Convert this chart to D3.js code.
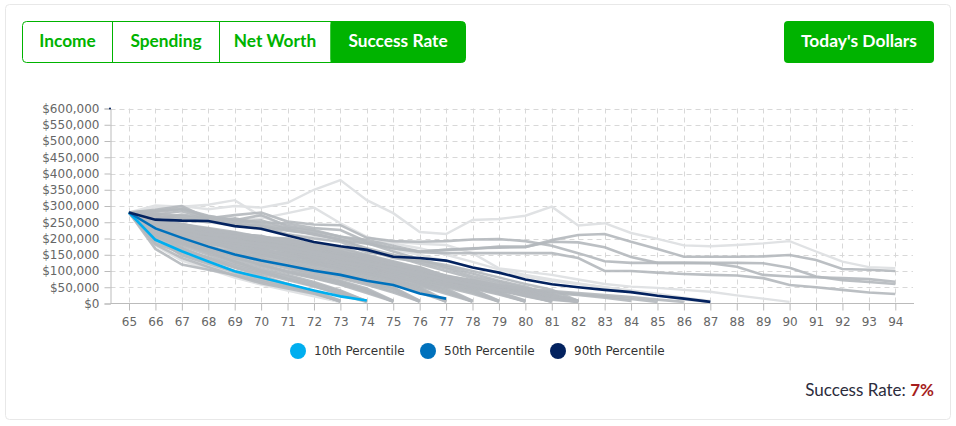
<!DOCTYPE html>
<html><head><meta charset="utf-8">
<script src="https://cdn.jsdelivr.net/npm/d3@7"></script>
<style>
html,body{margin:0;padding:0;background:#fff}
svg{display:block}
text{font-family:"DejaVu Sans",sans-serif}
.ui{font-family:Lato,"Open Sans",sans-serif}
</style></head><body>
<svg id="c" width="956" height="426"></svg>
<script>
const ages = d3.range(65,95);
const yTicks = [0,50,100,150,200,250,300,350,400,450,500,550,600]; // thousands of dollars
const tabs = ["Income","Spending","Net Worth","Success Rate"];
const legendNames = ["10th Percentile","50th Percentile","90th Percentile"];
const p10 = [280,196,161,129,99,80,60,40,22,9];
const p50 = [280,231,202,175,151,132,117,101,88,70,57,31,15];
const p90 = [280,258,255,254,238,230,209,189,176,165,144,140,132,111,95,74,59,50,42,35,24,15,5];
const fadedPaths = [
 [280,295,300,290,300,295,310,350,380,318,278,220,214,257,260,270,298,240,247,217,199,179,176,180,185,192,160,129,112,109],
 [280,302,298,304,318,268,240,222,205,188,165,150,130,112,96,82,70,60,50,40,30,18,8],
 [280,275,270,262,255,262,278,295,247,205,185,170,150,128,105,88,74,62,50,38,26,12,4],
 [280,268,262,250,240,228,214,204,192,186,190,184,180,155,108,98,88,74,60,52,48,42,36,25,15,5],
 [280,190,150,112,92,68,48,30,6],
 [280,178,132,106,80,58,40,22,4],
 [280,200,158,118,84,60,44,26,4]
];
const solidPaths = [
 [280,288,300,262,272,280,252,243,241,202,192,190,192,197,198,192,178,155,130,125,125,125,125,125,124,110,83,72,66,60],
 [280,282,290,268,258,250,246,232,226,190,170,160,165,170,172,173,195,211,214,190,168,144,144,144,145,149,134,106,104,100],
 [280,274,284,262,256,272,238,226,205,196,178,160,165,168,175,175,190,188,173,143,125,125,124,113,88,83,81,78,75,67],
 [280,268,262,254,246,236,224,214,196,184,170,158,155,155,155,155,155,140,100,100,95,91,88,86,78,57,50,42,34,29],
 [280,285,292,270,255,240,226,215,196,170,150,132,118,100,80,60,42,8],
 [280,262,274,262,250,256,232,222,206,186,160,136,112,92,70,52,26,6],
 [280,270,258,250,262,246,230,212,198,165,140,128,108,84,66,48,30,8],
 [280,276,268,258,244,238,212,200,190,158,146,122,100,78,60,44,24,6],
 [280,168,120,104,88,68,52,34,6],
 [280,182,140,112,86,62,46,30,8],
 [280,200,148,122,96,74,54,32,7],
 [280,186,155,128,100,80,60,36,6],
 [280,205,170,135,110,86,60,38,9],
 [280,210,172,140,112,92,72,52,30,6],
 [280,196,165,142,118,96,76,54,28,5],
 [280,215,178,150,122,100,78,58,34,8],
 [280,222,186,155,130,102,84,62,38,6],
 [280,205,182,160,128,108,88,66,40,7],
 [280,225,190,160,135,115,95,78,58,32,6],
 [280,212,188,166,140,122,98,80,60,36,8],
 [280,232,195,170,145,118,100,84,64,40,5],
 [280,238,200,165,150,128,108,86,68,42,7],
 [280,220,198,176,155,132,112,92,70,46,9],
 [280,228,205,180,148,136,116,96,78,58,34,6],
 [280,235,210,172,158,140,118,100,82,62,38,8],
 [280,242,208,186,162,138,124,104,86,66,44,5],
 [280,218,202,190,168,146,128,108,90,70,48,7],
 [280,246,215,192,166,150,132,112,94,74,50,9],
 [280,230,212,184,172,154,136,118,98,78,60,34,6],
 [280,240,220,196,176,148,140,122,102,82,64,38,8],
 [280,252,226,200,170,158,134,126,106,86,68,42,5],
 [280,236,218,204,180,162,144,120,110,90,72,46,7],
 [280,248,230,198,184,156,148,130,104,94,76,50,9],
 [280,255,224,208,178,166,152,128,114,96,70,54,30,6],
 [280,244,232,212,188,170,146,134,118,92,80,58,34,8],
 [280,254,236,206,192,164,156,138,112,100,84,62,38,5],
 [280,238,228,216,186,174,160,132,122,104,78,66,42,7],
 [280,250,240,220,196,168,150,142,126,108,88,60,46,9],
 [280,250,234,214,200,178,164,136,120,102,90,70,50,30,6],
 [280,254,238,210,194,182,158,146,130,110,86,66,54,34,8],
 [280,246,238,224,204,172,168,150,124,114,94,72,58,38,5],
 [280,252,240,218,190,186,162,140,134,106,98,78,56,42,7],
 [280,255,245,228,208,176,172,154,128,118,92,82,62,44,9],
 [280,248,242,226,212,190,166,148,138,112,102,76,66,46,28,6],
 [280,252,244,226,198,194,176,144,132,122,96,86,60,48,32,8],
 [280,240,232,222,216,180,170,158,126,116,106,80,70,52,34,5],
 [280,250,236,230,206,198,174,152,142,120,100,90,64,52,30,7],
 [280,236,228,216,210,184,180,162,136,128,104,84,74,50,36,9],
 [280,244,238,230,214,206,186,160,150,126,116,98,72,54,40,22,6],
 [280,234,226,218,208,188,184,166,140,132,112,88,78,52,42,26,8],
 [280,256,242,228,214,204,186,170,152,126,116,98,72,55,40,28,5],
 [280,246,232,214,206,192,190,172,144,136,110,102,80,60,44,24,7],
 [280,238,222,208,202,198,182,164,154,130,120,92,84,64,46,30,9],
 [280,252,240,226,218,196,194,174,148,140,114,106,76,68,48,32,18,6],
 [280,242,230,220,212,208,188,168,158,134,124,96,82,66,50,34,20,8],
 [280,248,236,224,216,200,198,178,152,144,118,110,80,70,52,36,22,5],
 [280,230,218,212,204,194,192,172,162,138,128,100,84,64,54,38,24,7],
 [280,254,244,232,220,204,200,182,156,148,122,112,84,72,55,40,26,9],
 [280,224,212,204,196,182,174,160,146,132,116,104,78,62,48,34,20,6],
 [280,228,208,198,190,178,170,156,142,128,112,94,76,60,46,30,16,5],
 [280,222,206,194,186,174,164,152,138,126,108,96,70,58,44,28,14,6],
 [280,236,216,202,192,184,176,158,144,124,110,90,74,56,42,26,12,5],
 [280,246,232,222,212,204,196,184,172,150,130,110,84,68,54,42,32,26,18,8],
 [280,238,228,214,208,196,186,176,160,140,120,104,82,66,52,44,36,28,22,14,5],
 [280,250,240,226,216,206,192,180,168,146,128,108,86,70,56,46,38,32,26,20,12,5]
];
const svg = d3.select("#c");
const x = d3.scalePoint().domain(ages).range([129,895.3]);
const y = d3.scaleLinear().domain([0,600]).range([303.5,108.5]);
const line = d3.line().x((d,i)=>x(ages[i])).y(d=>y(d));

// card
svg.append("rect").attr("x",5.5).attr("y",4.5).attr("width",945).attr("height",415)
  .attr("rx",4).attr("fill","#fff").attr("stroke","#e8e8e8");

// tab group
const green = "#00b300";
const tabEdges = [22.5,112.5,219.5,330.5,465.5];
svg.append("rect").attr("x",330.5).attr("y",21.5).attr("width",135).attr("height",41).attr("rx",4).attr("fill",green);
svg.append("rect").attr("x",330.5).attr("y",21.5).attr("width",6).attr("height",41).attr("fill",green);
svg.append("rect").attr("x",22.5).attr("y",21.5).attr("width",443).attr("height",41).attr("rx",4).attr("fill","none").attr("stroke",green);
[112.5,219.5].forEach(v=>svg.append("line").attr("x1",v).attr("x2",v).attr("y1",21.5).attr("y2",62.5).attr("stroke",green));
tabs.forEach((t,i)=>svg.append("text").attr("class","ui").attr("x",(tabEdges[i]+tabEdges[i+1])/2).attr("y",47)
  .attr("text-anchor","middle").attr("font-size",17.3).attr("font-weight",700)
  .attr("fill",i===3?"#fff":green).text(t));
svg.append("rect").attr("x",784).attr("y",21).attr("width",150).attr("height",42).attr("rx",4).attr("fill",green);
svg.append("text").attr("class","ui").attr("x",859).attr("y",47).attr("text-anchor","middle")
  .attr("font-size",17.4).attr("font-weight",700).attr("fill","#fff").text("Today's Dollars");

// grid
svg.append("g").selectAll("line").data(yTicks.slice(1)).join("line")
  .attr("x1",110.5).attr("x2",913).attr("y1",d=>Math.round(y(d))+.5).attr("y2",d=>Math.round(y(d))+.5)
  .attr("stroke","#d8d8d8").attr("stroke-dasharray","5,4");
svg.append("g").selectAll("line").data(ages).join("line")
  .attr("x1",d=>Math.round(x(d))+.5).attr("x2",d=>Math.round(x(d))+.5).attr("y1",108.5).attr("y2",303.5)
  .attr("stroke","#d8d8d8").attr("stroke-dasharray","5,4");

// axes
const fmt = d3.format(",");
const yAxis = svg.append("g").attr("transform","translate(110.5,0)")
  .call(d3.axisLeft(y).tickValues(yTicks).tickSize(6).tickPadding(5).tickFormat(d=>"$"+fmt(d*1000)));
const xAxis = svg.append("g").attr("transform","translate(0,303.5)")
  .call(d3.axisBottom(x).tickSize(7).tickPadding(7));
xAxis.select(".domain").attr("d","M110.5,0H914");
[yAxis,xAxis].forEach(a=>{
  a.selectAll(".domain,line").attr("stroke","#bbb");
  a.selectAll("text").attr("fill","#666").attr("font-size",12).attr("font-family","DejaVu Sans");
});

// simulated paths
svg.append("g").selectAll("path").data(fadedPaths).join("path").attr("d",line)
  .attr("fill","none").attr("stroke","#e0e2e4").attr("stroke-width",2.4);
svg.append("g").selectAll("path").data(solidPaths).join("path").attr("d",line)
  .attr("fill","none").attr("stroke","#b4b8bc").attr("stroke-opacity",.9).attr("stroke-width",2.6);

// percentiles
const pct = [[p90,"#03225f"],[p50,"#0071bc"],[p10,"#00aeef"]];
pct.slice().reverse().forEach(([s,c])=>svg.append("path").datum(s).attr("d",line)
  .attr("fill","none").attr("stroke",c).attr("stroke-width",2.6));
svg.append("circle").attr("cx",110).attr("cy",y(600)).attr("r",1).attr("fill","#03225f");

// legend
const legendColors = ["#00aeef","#0071bc","#03225f"];
legendNames.forEach((n,i)=>{
  const lx = 298 + i*130;
  svg.append("circle").attr("cx",lx).attr("cy",351).attr("r",8).attr("fill",legendColors[i]);
  svg.append("text").attr("x",lx+16).attr("y",355).attr("font-size",12).attr("fill","#333").text(n);
});

// footer
const ft = svg.append("text").attr("class","ui").attr("x",934).attr("y",396).attr("text-anchor","end").attr("font-size",17);
ft.append("tspan").attr("fill","#2c2c3c").text("Success Rate: ");
ft.append("tspan").attr("fill","#a51d1d").attr("font-weight",700).text("7%");
</script></body></html>
